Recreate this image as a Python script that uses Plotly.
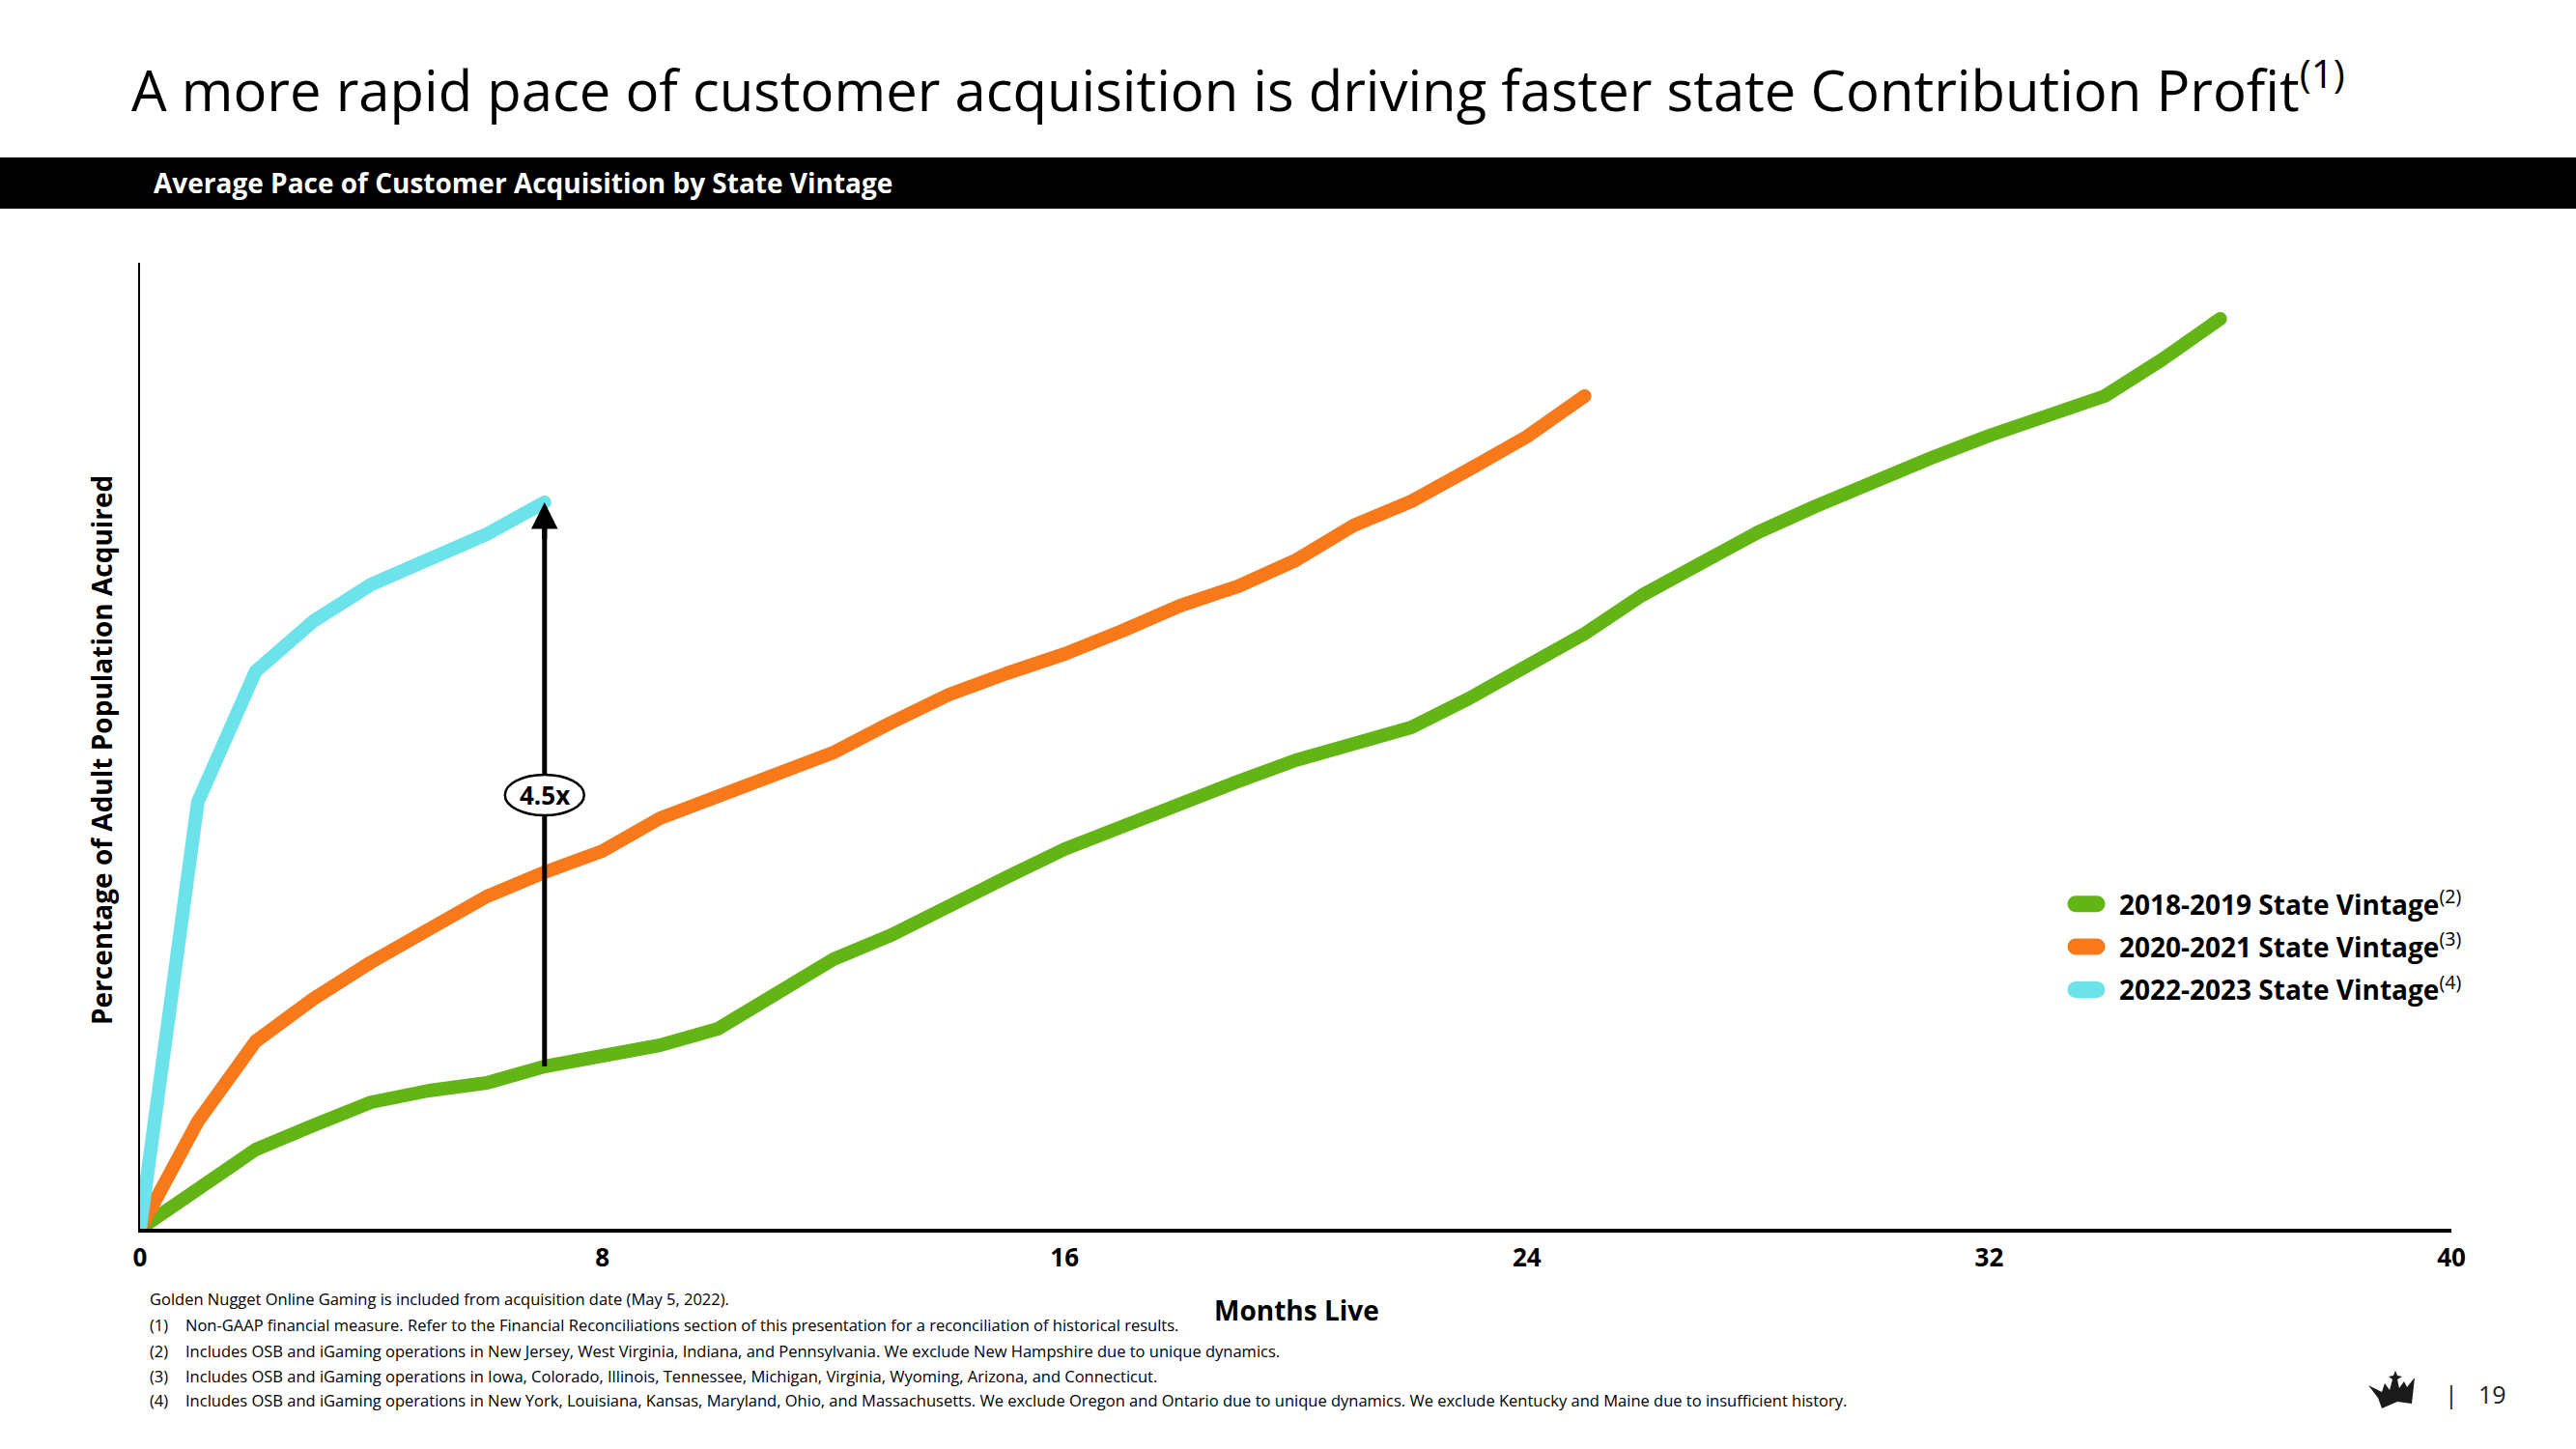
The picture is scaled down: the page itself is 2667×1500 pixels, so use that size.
import plotly.graph_objects as go

# ---------------- data ----------------
months_2018 = list(range(0, 37))
vals_2018 = [0, 4.1, 8.2, 10.7, 13.1, 14.3, 15.1, 16.8, 17.9, 19.0, 20.7, 24.1, 27.9, 30.4,
             33.5, 36.4, 39.3, 41.7, 44.0, 46.3, 48.5, 50.2, 51.9, 54.9, 58.3, 61.6, 65.6,
             69.0, 72.1, 74.8, 77.4, 79.8, 82.1, 84.2, 86.2, 90.0, 94.2]
months_2020 = list(range(0, 26))
vals_2020 = [0, 11.1, 19.4, 23.8, 27.6, 31.1, 34.4, 36.9, 39.1, 42.5, 44.7, 47.1, 49.3, 52.4,
             55.3, 57.5, 59.5, 61.9, 64.5, 66.5, 69.2, 72.8, 75.3, 78.6, 82.0, 86.2]
months_2022 = list(range(0, 8))
vals_2022 = [0, 44.2, 57.7, 62.9, 66.7, 69.4, 71.9, 75.2]

series_names = ["2018-2019 State Vintage", "2020-2021 State Vintage", "2022-2023 State Vintage"]
series_notes = ["(2)", "(3)", "(4)"]
colors = ["#62b515", "#f7791a", "#6ce3ea"]
x_ticks = [0, 8, 16, 24, 32, 40]
multiple_label = "4.5x"
label_level = 44.9
arrow_month = 7

title_text = "A more rapid pace of customer acquisition is driving faster state Contribution Profit<sup>(1)</sup>"
subtitle_text = "Average Pace of Customer Acquisition by State Vintage"
footnote_intro = "Golden Nugget Online Gaming is included from acquisition date (May 5, 2022)."
footnote_nums = ["(1)", "(2)", "(3)", "(4)"]
footnote_texts = [
    "Non-GAAP financial measure. Refer to the Financial Reconciliations section of this presentation for a reconciliation of historical results.",
    "Includes OSB and iGaming operations in New Jersey, West Virginia, Indiana, and Pennsylvania. We exclude New Hampshire due to unique dynamics.",
    "Includes OSB and iGaming operations in Iowa, Colorado, Illinois, Tennessee, Michigan, Virginia, Wyoming, Arizona, and Connecticut.",
    "Includes OSB and iGaming operations in New York, Louisiana, Kansas, Maryland, Ohio, and Massachusetts. We exclude Oregon and Ontario due to unique dynamics. We exclude Kentucky and Maine due to insufficient history.",
]

# ---------------- layout helpers ----------------
W, H = 2667, 1500
L, R, T, B = 145, 129, 272, 228
PW, PH = W - L - R, H - T - B


def pxx(x):
    return (x - L) / PW


def pxy(y):
    return (H - B - y) / PH


FONT = "Open Sans"

fig = go.Figure()
for xs, ys, name, note, col in zip([months_2018, months_2020, months_2022],
                                   [vals_2018, vals_2020, vals_2022],
                                   series_names, series_notes, colors):
    fig.add_trace(go.Scatter(
        x=xs, y=ys, mode="lines",
        line=dict(color=col, width=14),
        name="<b>" + name + "</b><sup>" + note + "</sup>",
        legendgroup=name,
        hoverinfo="skip",
    ))

green_top = vals_2018[arrow_month]
cyan_top = vals_2022[arrow_month]

shapes = [
    # black band
    dict(type="rect", xref="paper", yref="paper", x0=pxx(0), x1=pxx(W), y0=pxy(216), y1=pxy(163),
         fillcolor="black", line=dict(width=0), layer="below"),
    # arrow shaft
    dict(type="line", xref="x", yref="y", x0=arrow_month, x1=arrow_month,
         y0=green_top, y1=cyan_top - 1.5, line=dict(color="black", width=5), layer="above"),
    # ellipse for label
    dict(type="circle", xref="x", yref="y", xsizemode="pixel", ysizemode="pixel",
         xanchor=arrow_month, yanchor=label_level,
         x0=-41, x1=41, y0=-21, y1=21,
         fillcolor="white", line=dict(color="black", width=2.5), layer="above"),
]

# crown logo (decorative)
crown_pts = [(2452, 1434), (2466, 1441), (2469, 1432), (2474, 1439), (2477, 1428), (2473, 1425),
             (2478, 1424), (2480, 1419), (2482, 1424), (2487, 1425), (2482, 1428), (2484, 1437),
             (2489, 1430), (2492, 1436), (2500, 1426), (2497, 1453), (2482, 1451), (2466, 1458),
             (2462, 1447)]
path = "M " + " L ".join(f"{pxx(a):.5f},{pxy(b):.5f}" for a, b in crown_pts) + " Z"
shapes.append(dict(type="path", xref="paper", yref="paper", path=path,
                   fillcolor="#1a1a1a", line=dict(width=0)))

annotations = [
    dict(xref="paper", yref="paper", x=pxx(134), y=pxy(90), xanchor="left", yanchor="middle",
         text=title_text, showarrow=False, font=dict(family=FONT, size=58, color="black")),
    dict(xref="paper", yref="paper", x=pxx(157), y=pxy(189), xanchor="left", yanchor="middle",
         text="<b>" + subtitle_text + "</b>", showarrow=False,
         font=dict(family=FONT, size=28, color="white")),
    dict(xref="paper", yref="paper", x=pxx(105), y=pxy(777), xanchor="center", yanchor="middle",
         textangle=-90, text="<b>Percentage of Adult Population Acquired</b>", showarrow=False,
         font=dict(family=FONT, size=28, color="black")),
    dict(xref="paper", yref="paper", x=pxx(1342), y=pxy(1356), xanchor="center", yanchor="middle",
         text="<b>Months Live</b>", showarrow=False, font=dict(family=FONT, size=28, color="black")),
    # arrowhead
    dict(xref="x", yref="y", axref="x", ayref="y", x=arrow_month, y=cyan_top,
         ax=arrow_month, ay=cyan_top - 4, text="", showarrow=True, arrowhead=2,
         arrowsize=1.1, arrowwidth=5, arrowcolor="black", standoff=0),
    dict(xref="x", yref="y", x=arrow_month, y=label_level, text="<b>" + multiple_label + "</b>",
         showarrow=False, font=dict(family=FONT, size=26, color="black")),
    dict(xref="paper", yref="paper", x=pxx(153), y=pxy(1344), xanchor="left", yanchor="middle",
         text=footnote_intro, showarrow=False, font=dict(family=FONT, size=16.5, color="black")),
    dict(xref="paper", yref="paper", x=pxx(2538), y=pxy(1443), xanchor="center", yanchor="middle",
         text="|", showarrow=False, font=dict(family=FONT, size=25, color="#222")),
    dict(xref="paper", yref="paper", x=pxx(2580), y=pxy(1443), xanchor="center", yanchor="middle",
         text="19", showarrow=False, font=dict(family=FONT, size=25, color="#222")),
]
foot_y = [1371, 1398, 1424, 1449]
for num, txt, yy in zip(footnote_nums, footnote_texts, foot_y):
    annotations.append(dict(xref="paper", yref="paper", x=pxx(153), y=pxy(yy), xanchor="left",
                            yanchor="middle", text=num, showarrow=False,
                            font=dict(family=FONT, size=16.5, color="black")))
    annotations.append(dict(xref="paper", yref="paper", x=pxx(190), y=pxy(yy), xanchor="left",
                            yanchor="middle", text=txt, showarrow=False,
                            font=dict(family=FONT, size=16.5, color="black")))

fig.update_layout(
    width=W, height=H,
    margin=dict(l=L, r=R, t=T, b=B, pad=0),
    paper_bgcolor="white", plot_bgcolor="white",
    shapes=shapes, annotations=annotations,
    showlegend=True,
    legend=dict(x=pxx(2140), y=pxy(911), xanchor="left", yanchor="top",
                font=dict(family=FONT, size=28, color="black"),
                tracegroupgap=5, bgcolor="rgba(0,0,0,0)", itemwidth=44),
    xaxis=dict(range=[0, 40], tickvals=x_ticks, ticktext=[f"<b>{t}</b>" for t in x_ticks],
               showgrid=False, zeroline=False, showline=True, linecolor="black", linewidth=4,
               ticks="", tickfont=dict(family=FONT, size=26, color="black"), ticklabelstandoff=4,
               fixedrange=True),
    yaxis=dict(range=[0, 100], showticklabels=False, showgrid=False, zeroline=False,
               showline=True, linecolor="black", linewidth=2, ticks="", fixedrange=True),
)

post_js = (
    "document.body.style.margin='0';"
    "document.querySelectorAll('.scatterlayer path.js-line').forEach(function(p){"
    "p.style.strokeLinecap='round';p.style.strokeLinejoin='round';});"
    "document.querySelectorAll('.legendlines path').forEach(function(p){"
    "p.setAttribute('d','M9,0h22');p.style.strokeWidth='17px';"
    "p.style.strokeLinecap='round';});"
)
fig.write_html("out.html", config={"displayModeBar": False}, post_script=post_js)
